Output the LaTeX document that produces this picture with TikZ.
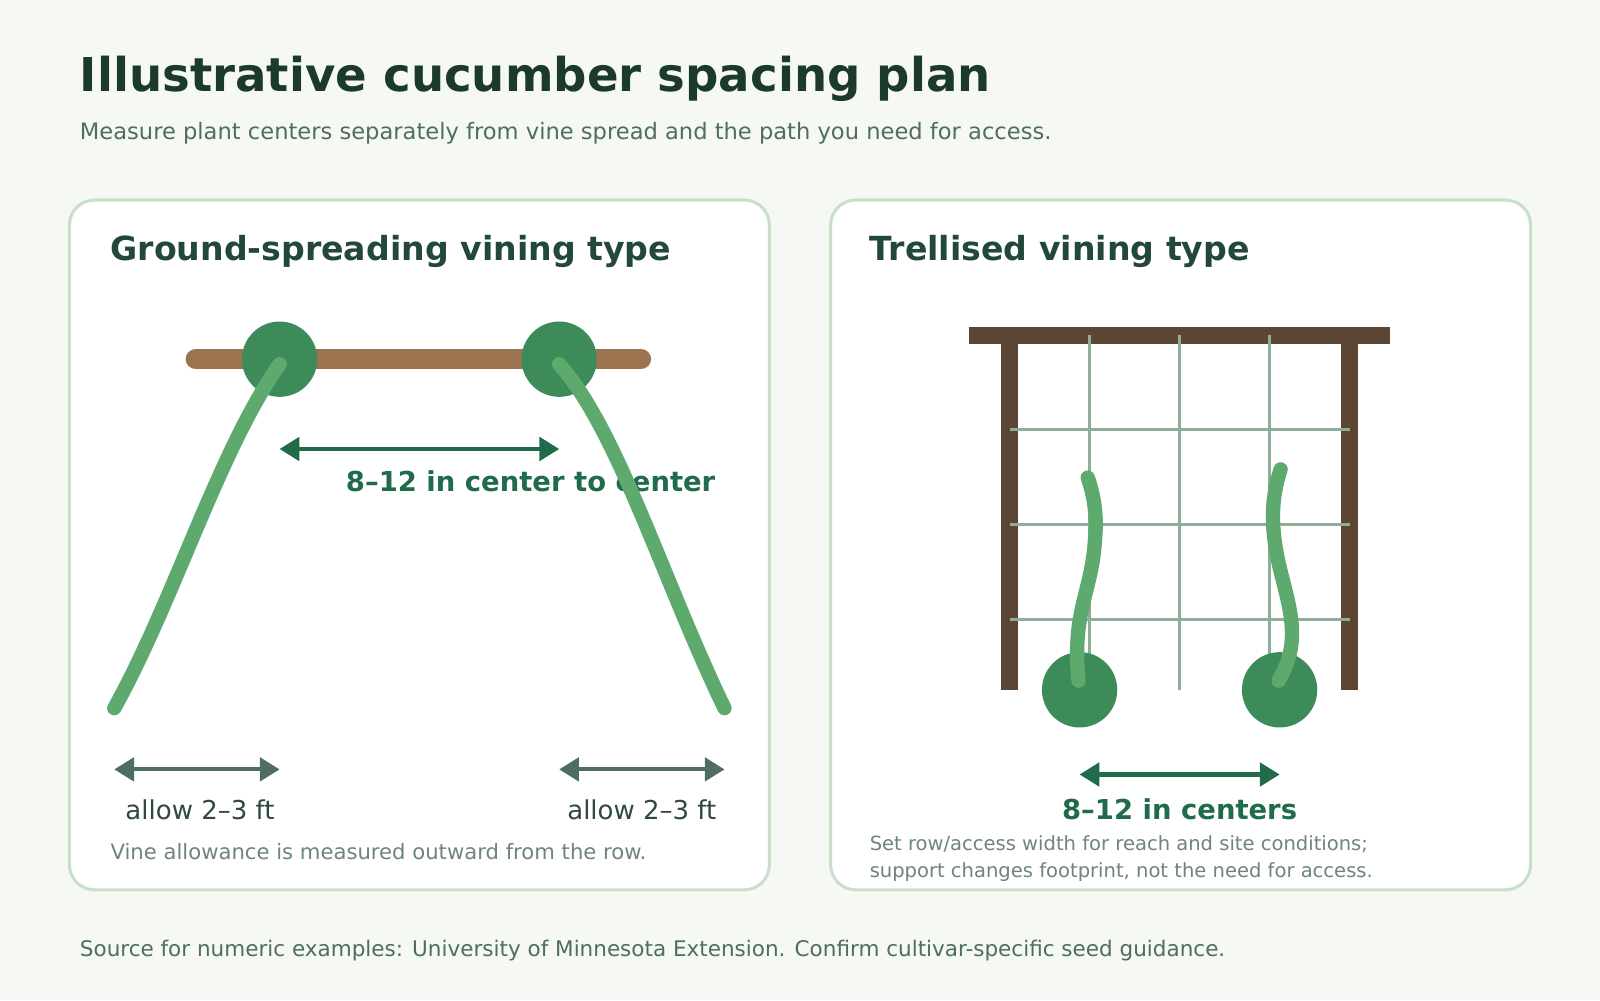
\documentclass[tikz,border=0pt]{standalone}
\usepackage{fontspec}
\setmainfont{DejaVu Sans}
\usetikzlibrary{arrows.meta}
\definecolor{bg}{HTML}{F6F8F3}
\definecolor{pborder}{HTML}{C9DFC8}
\definecolor{ttl}{HTML}{1B3A2D}
\definecolor{sub}{HTML}{4E6E5E}
\definecolor{ptitle}{HTML}{22483A}
\definecolor{stem}{HTML}{9C7550}
\definecolor{plant}{HTML}{3E8B5A}
\definecolor{vine}{HTML}{5EAA6E}
\definecolor{darr}{HTML}{1F6B4A}
\definecolor{garr}{HTML}{4E6E60}
\definecolor{wood}{HTML}{5C4633}
\definecolor{grid}{HTML}{8FAE98}
\definecolor{note}{HTML}{6F857A}
\definecolor{lab}{HTML}{2F4A3C}
\tikzset{
 panel/.style={draw=pborder,fill=white,line width=1.7pt,rounded corners=14pt},
 vinel/.style={draw=vine,line width=8pt,line cap=round},
 plantc/.style={circle,fill=plant,minimum size=42pt,inner sep=0pt},
 dim/.style={line width=2.3pt,{Triangle[length=11pt,width=13pt]}-{Triangle[length=11pt,width=13pt]}},
 gridl/.style={draw=grid,line width=1.8pt},
}
\begin{document}
\begin{tikzpicture}[x=0.02cm,y=-0.02cm]
\fill[bg] (0,0) rectangle (1568,980);
\useasboundingbox (0,0) rectangle (1568,980);
\node[anchor=base west,font=\bfseries\fontsize{26}{30}\selectfont,text=ttl,inner sep=0] (title) at (78,90) {Illustrative cucumber spacing plan};
\node[anchor=base west,font=\fontsize{12.6}{15}\selectfont,text=sub,inner sep=0] (subt) at (78,137) {Measure plant centers separately from vine spread and the path you need for access.};
\draw[panel] (68,196) rectangle (754,872);
\draw[panel] (814,196) rectangle (1500,872);
\node[anchor=base west,font=\bfseries\fontsize{18.5}{22}\selectfont,text=ptitle,inner sep=0] (lt) at (108,255) {Ground-spreading vining type};
\node[anchor=base west,font=\bfseries\fontsize{18.5}{22}\selectfont,text=ptitle,inner sep=0] (rt) at (852,255) {Trellised vining type};
% left
\coordinate (r1) at (192,352); \coordinate (r2) at (628,352);
\draw[stem,line width=11.5pt,line cap=round] (r1) -- (r2);
\node[plantc] (p1) at (274,352) {};
\node[plantc] (p2) at (548,352) {};
\draw[darr,dim] (p1.center |- 0,440) coordinate (a1) -- (p2.center |- 0,440) coordinate (a2);
\node[font=\bfseries\fontsize{15.3}{18}\selectfont,text=darr,anchor=base] (cl) at (520,482) {8–12 in center to center};
\coordinate (e1) at (112,694); \coordinate (e2) at (710,694);
\draw[vinel] (274,357) .. controls (215,440) and (170,590) .. (e1);
\draw[vinel] (548,357) .. controls (605,420) and (650,570) .. (e2);
\coordinate (b1) at (112,754); \coordinate (b2) at (274,754);
\coordinate (b3) at (548,754); \coordinate (b4) at (710,754);
\draw[garr,dim] (b1) -- (b2);
\draw[garr,dim] (b3) -- (b4);
\node[font=\fontsize{14.5}{17}\selectfont,text=lab,anchor=base] (al1) at (196,803) {allow 2–3 ft};
\node[font=\fontsize{14.5}{17}\selectfont,text=lab,anchor=base] (al2) at (629,803) {allow 2–3 ft};
\node[font=\fontsize{11.8}{14}\selectfont,text=note,anchor=base west,inner sep=0] (n1) at (108,842) {Vine allowance is measured outward from the row.};
% right
\fill[wood] (950,320) rectangle (1362,337);
\fill[wood] (981,337) rectangle (998,676);
\fill[wood] (1314,337) rectangle (1331,676);
\foreach \x in {1068,1156,1244} \draw[gridl] (\x,328) -- (\x,676);
\foreach \y in {421,514,607} \draw[gridl] (990,\y) -- (1323,\y);
\node[plantc] (q1) at (1058,676) {};
\node[plantc] (q2) at (1254,676) {};
\draw[vinel] (1057,667) .. controls (1050,600) and (1070,580) .. (1073,530) .. controls (1076,500) and (1070,480) .. (1066,468);
\draw[vinel] (1253,667) .. controls (1275,630) and (1265,600) .. (1255,560) .. controls (1245,520) and (1245,490) .. (1255,460);
\draw[darr,dim] (q1.center |- 0,759) -- (q2.center |- 0,759);
\node[font=\bfseries\fontsize{15.3}{18}\selectfont,text=darr,anchor=base] (cr) at (1156,803) {8–12 in centers};
\node[font=\fontsize{10.9}{13}\selectfont,text=note,anchor=base west,inner sep=0] (n2) at (852,833) {Set row/access width for reach and site conditions;};
\node[font=\fontsize{10.9}{13}\selectfont,text=note,anchor=base west,inner sep=0] (n3) at (852,860) {support changes footprint, not the need for access.};
\node[font=\fontsize{12}{14}\selectfont,text=sub,anchor=base west,inner sep=0] (src) at (78,937) {Source for numeric examples: University of Minnesota Extension. Confirm cultivar-specific seed guidance.};
\end{tikzpicture}
\end{document}
